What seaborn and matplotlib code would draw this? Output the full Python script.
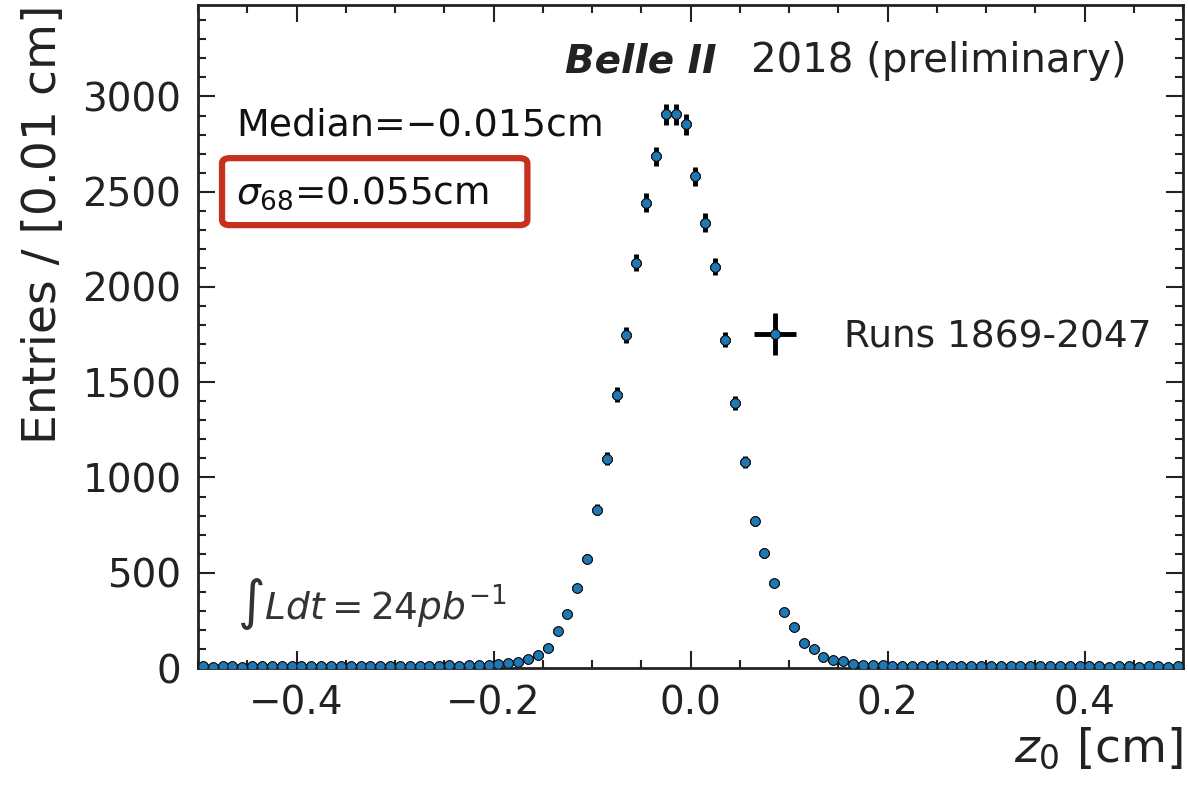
import numpy as np
import pandas as pd
import seaborn as sns
import matplotlib
matplotlib.use("Agg")
import matplotlib.pyplot as plt
from matplotlib.patches import FancyBboxPatch
from matplotlib.legend_handler import HandlerErrorbar
from matplotlib.ticker import MultipleLocator

# ---- data ----
bin_edges_lo = -0.5
bin_width = 0.01
left_tail = [8, 7, 9, 8, 7, 9, 8, 10, 9, 8, 9, 10, 8, 9, 11, 10, 9, 11, 10, 12,
             11, 13, 12, 11, 13, 14, 13, 15, 16, 18]
core = [20, 25, 33, 45, 68, 105, 192, 284, 420, 573,
        830, 1098, 1435, 1750, 2128, 2443, 2685, 2906, 2906, 2853,
        2580, 2338, 2107, 1724, 1392, 1082, 772, 604, 447, 294,
        215, 131, 100, 58, 42, 36, 22, 17, 15, 14]
right_tail = [13, 12, 13, 11, 12, 10, 11, 10, 9, 11, 10, 9, 10, 8, 9, 10, 9, 8, 9, 8,
              10, 8, 7, 9, 8, 7, 8, 9, 7, 8]
counts = np.array(left_tail + core + right_tail, dtype=float)
centers = bin_edges_lo + bin_width * (np.arange(len(counts)) + 0.5)
df = pd.DataFrame({"z0": centers, "entries": counts})

legend_label = "Runs 1869-2047"
x_ticks = [-0.4, -0.2, 0.0, 0.2, 0.4]
y_ticks = [0, 500, 1000, 1500, 2000, 2500, 3000]

# ---- style ----
sns.set_style("ticks")
plt.rcParams["font.family"] = ["DejaVu Sans"]
plt.rcParams["mathtext.fontset"] = "dejavusans"

blue = "#1f77b4"
fig = plt.figure(figsize=(11.88, 7.87), dpi=100)
ax = fig.add_axes([198 / 1188, 1 - 668 / 787, (1183 - 198) / 1188, (668 - 5) / 787])

eb = ax.errorbar(df["z0"], df["entries"], xerr=bin_width / 2, yerr=np.sqrt(df["entries"]),
                 fmt="o", ms=7, mfc=blue, mec="black", mew=0.7,
                 ecolor="black", elinewidth=3.5, capsize=0, zorder=2, label=legend_label)
sns.scatterplot(data=df, x="z0", y="entries", ax=ax, color=blue, s=46,
                edgecolor="#111111", linewidth=0.6, zorder=3, legend=False)

ax.set_xlim(-0.5, 0.5)
ax.set_ylim(0, 3480)
ax.set_xticks(x_ticks)
ax.set_yticks(y_ticks)
ax.xaxis.set_minor_locator(MultipleLocator(0.05))
ax.yaxis.set_minor_locator(MultipleLocator(100))
ax.tick_params(which="both", direction="in", top=True, right=True, width=1.5, colors="#222222")
ax.tick_params(which="major", length=12, labelsize=28, pad=12, labelcolor="#222222")
ax.tick_params(which="minor", length=6)
for s in ax.spines.values():
    s.set_linewidth(2)
    s.set_color("#222222")

ax.set_ylabel("Entries / [0.01 cm]", fontsize=34, loc="top", color="#222222", labelpad=12)
ax.set_xlabel("$z_0$ [cm]", fontsize=34, loc="right", color="#222222", labelpad=2)

# ---- annotations ----
ax.text(0.373, 0.915, "Belle II", transform=ax.transAxes, fontsize=28,
        fontweight="bold", fontstyle="italic", va="center", ha="left", color="#222222")
ax.text(0.943, 0.915, "2018 (preliminary)", transform=ax.transAxes, fontsize=29,
        va="center", ha="right", color="#222222")
ax.text(0.039, 0.819, "Median=\u22120.015cm", transform=ax.transAxes, fontsize=27.3,
        va="center", ha="left", color="#111111")
ax.text(0.039, 0.716, "$\\sigma_{68}$=0.055cm", transform=ax.transAxes, fontsize=27,
        va="center", ha="left", color="#111111")
box = FancyBboxPatch((0.0244, 0.668), 0.310, 0.101, transform=ax.transAxes,
                     boxstyle="round,pad=0,rounding_size=0.008", fill=False,
                     ec="#c8301e", lw=4.5, zorder=5)
ax.add_patch(box)
ax.text(0.04, 0.097, "$\\int Ldt = 24pb^{-1}$", transform=ax.transAxes, fontsize=27,
        va="center", ha="left", color="#333333")

leg = ax.legend(handles=[eb], labels=[legend_label], loc="center left",
                bbox_to_anchor=(0.5655, 0.499), frameon=False, fontsize=27,
                borderpad=0, borderaxespad=0, handlelength=1.07, handletextpad=1.3,
                handler_map={type(eb): HandlerErrorbar(xerr_size=0.55, yerr_size=0.55)})
for t in leg.get_texts():
    t.set_color("#222222")

fig.savefig("out.png", dpi=100)
